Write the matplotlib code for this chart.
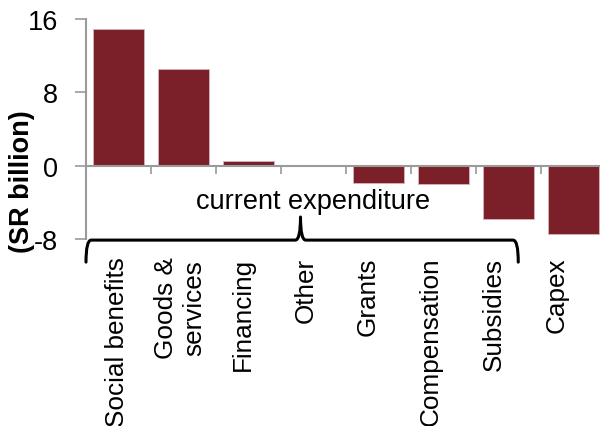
import matplotlib
matplotlib.use("Agg")
import matplotlib.pyplot as plt
from matplotlib.path import Path
from matplotlib.patches import PathPatch

plt.rcParams['font.family'] = ['Liberation Sans', 'DejaVu Sans']

categories = ["Social benefits", "Goods &\nservices", "Financing", "Other",
              "Grants", "Compensation", "Subsidies", "Capex"]
values = [14.9, 10.5, 0.55, 0.1, -1.85, -2.0, -5.8, -7.5]
yticks = [16, 8, 0, -8]
ytick_labels = ["16", "8", "0", "-8"]

bar_color = "#7b2029"
axis_gray = "#9a9a9a"
fs = 19.5
fs_cat = 18.8

fig = plt.figure(figsize=(6.0, 4.27), dpi=100)
ax = fig.add_axes([86 / 600, 1 - 240 / 427, 520 / 600, 220 / 427])

x = list(range(len(categories)))
ax.bar(x, values, width=0.77, color=bar_color, edgecolor="#d8b4b7", linewidth=0.6, zorder=2)

ax.set_xlim(-0.5, len(categories) - 0.5)
ax.set_ylim(-8, 16)
ax.set_yticks(yticks)
ax.set_yticklabels(ytick_labels, fontsize=fs)
ax.tick_params(axis="y", direction="out", length=8, width=1.2, color=axis_gray, pad=12)

# zero line acts as the category axis, with separators between categories
for s in ["top", "right"]:
    ax.spines[s].set_visible(False)
ax.spines["bottom"].set_position(("data", 0))
ax.spines["bottom"].set_color(axis_gray)
ax.spines["bottom"].set_linewidth(1.5)
ax.spines["left"].set_color(axis_gray)
ax.spines["left"].set_linewidth(1.5)
ax.set_xticks([i + 0.5 for i in x[:-1]])
ax.set_xticklabels([])
ax.tick_params(axis="x", direction="out", length=6, width=1.2, color=axis_gray)

ax.set_ylabel("(SR billion)", fontsize=fs, fontweight="bold")
ax.yaxis.set_label_coords(-0.098, 0.264)

# category names below the plot
xt = ax.get_xaxis_transform()
for i, name in enumerate(categories):
    ax.text(i - 0.02 - 0.035 * i, -0.08, name, transform=xt, rotation=90,
            ha="center", va="top", multialignment="center", fontsize=fs_cat,
            clip_on=False)

# curly brace grouping the current expenditure items
x0, x1, xm = -0.5, 6.15, 2.8
yb, yl, yt = -0.105, -0.005, 0.1
dx = 0.08
verts = [
    (x0, yb), (x0, yl), (x0 + dx, yl),
    (xm - dx, yl), (xm, yl), (xm, yt),
    (xm, yl), (xm + dx, yl),
    (x1 - dx, yl), (x1, yl), (x1, yb),
]
codes = [Path.MOVETO, Path.CURVE3, Path.CURVE3,
         Path.LINETO, Path.CURVE3, Path.CURVE3,
         Path.CURVE3, Path.CURVE3,
         Path.LINETO, Path.CURVE3, Path.CURVE3]
ax.add_patch(PathPatch(Path(verts, codes), transform=xt, fill=False,
                       edgecolor="black", linewidth=2.2, clip_on=False,
                       capstyle="round", joinstyle="round"))

ax.text(3.0, -4.6, "current expenditure", ha="center", va="baseline", fontsize=fs)

fig.savefig("out.png", dpi=100)
